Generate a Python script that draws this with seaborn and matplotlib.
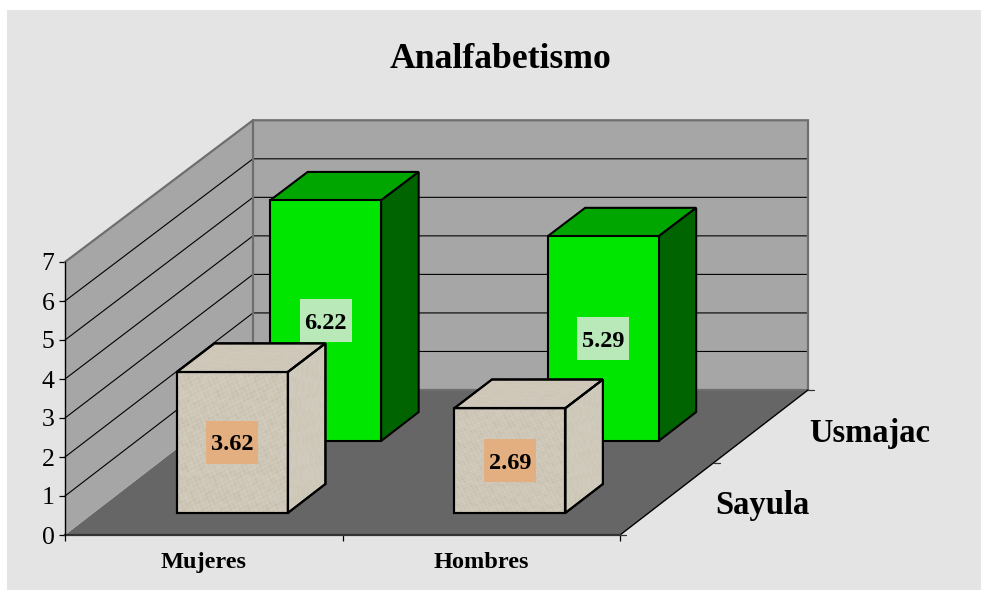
import matplotlib
matplotlib.use("Agg")
import matplotlib.pyplot as plt
from matplotlib.patches import Polygon, Rectangle
import numpy as np
import pandas as pd
import seaborn as sns

categorias = ["Mujeres", "Hombres"]
lugares = ["Sayula", "Usmajac"]
sayula = [3.62, 2.69]
usmajac = [6.22, 5.29]
titulo = "Analfabetismo"

sns.set_theme(style="white")
plt.rcParams["font.family"] = ["Liberation Serif", "DejaVu Serif"]

W, H = 981, 590
fig = plt.figure(figsize=(W / 100, H / 100), dpi=100, facecolor="white")
fig.patches.append(Rectangle((7 / W, 0), 1 - 7 / W, 1 - 10 / H, transform=fig.transFigure,
                             facecolor="#e4e4e4", edgecolor="none", zorder=-10))
ax = fig.add_axes([65 / W, (H - 535) / H, 555 / W, 273 / H], facecolor="none")

df = pd.DataFrame({
    "categoria": categorias * 2,
    "lugar": [lugares[0]] * 2 + [lugares[1]] * 2,
    "valor": sayula + usmajac,
})
FRONT = {"Sayula": "#cfc8b8", "Usmajac": "#00e600"}
TOP = {"Sayula": "#d0c9ba", "Usmajac": "#00a600"}
SIDE = {"Sayula": "#d0cabb", "Usmajac": "#006400"}
LABEL = {"Sayula": "#e3ae80", "Usmajac": "#b9e8b9"}
DEPTH = {"Sayula": (0.152, 0.352), "Usmajac": (0.648, 0.848)}
ZO = {"Sayula": 6, "Usmajac": 4}

sns.barplot(data=df, x="categoria", y="valor", hue="lugar", hue_order=lugares, order=categorias,
            palette=FRONT, dodge=False, width=0.4, legend=False, ax=ax, saturation=1)
ax.set_xlim(-0.5, 1.5)
ax.set_ylim(0, 7)
ax.set_xlabel("")
ax.set_ylabel("")

# oblique projection of the depth axis (data units per full depth), slight shrink with depth
DX = 188 / 277.5
DY = 145 / 39.0
SHRINK = 0.012


def proj(x, v, d):
    return (x + d * DX, v * (1 - SHRINK * d) + d * DY)


def poly(points, **kw):
    p = Polygon([proj(*q) for q in points], closed=True, clip_on=False, **kw)
    ax.add_patch(p)
    return p


# faint stone grain drawn over the Sayula faces (a fill pattern, carries no values)
gy, gx = np.mgrid[0:160, 0:160]
grain = (np.sin(gx * 0.71 + gy * 0.37) * np.sin(gx * 0.23 - gy * 0.83)
         + 0.7 * np.sin(gx * 0.13 + np.sin(gy * 0.19) * 3.1) * np.sin(gy * 0.11 + np.sin(gx * 0.17) * 2.3))
grain_rgba = np.zeros(grain.shape + (4,))
grain_rgba[..., :3] = (grain[..., None] < 0) * np.array([0.62, 0.59, 0.52]) + (grain[..., None] >= 0) * 0.9
grain_rgba[..., 3] = np.clip(np.abs(grain) * 0.14, 0, 0.3)


def stone(patch, zorder):
    x0, y0 = patch.get_xy().min(axis=0) if isinstance(patch, Polygon) else patch.get_xy()
    x1, y1 = patch.get_xy().max(axis=0)
    im = ax.imshow(grain_rgba, extent=(x0, x1, y0, y1), aspect="auto", zorder=zorder,
                   interpolation="bilinear", clip_on=True)
    im.set_clip_path(patch)


X0, X1, VT = -0.5, 1.5, 7
WALL, FLOOR, EDGE = "#a6a6a6", "#666666", "#6e6e6e"
poly([(X0, 0, 0), (X1, 0, 0), (X1, 0, 1), (X0, 0, 1)], facecolor=FLOOR, edgecolor="none", zorder=1)
poly([(X0, 0, 0), (X0, 0, 1), (X0, VT, 1), (X0, VT, 0)], facecolor=WALL, edgecolor="none", zorder=1)
poly([(X0, 0, 1), (X1, 0, 1), (X1, VT, 1), (X0, VT, 1)], facecolor=WALL, edgecolor="none", zorder=1)

for v in range(1, 7):
    xs, ys = zip(proj(X0, v, 0), proj(X0, v, 1), proj(X1, v, 1))
    ax.plot(xs, ys, color="#000000", lw=0.8, clip_on=False, zorder=2)
xs, ys = zip(proj(X0, VT, 0), proj(X0, VT, 1), proj(X1, VT, 1), proj(X1, 0, 1))
ax.plot(xs, ys, color=EDGE, lw=1.6, clip_on=False, zorder=2, solid_joinstyle="miter")
xs, ys = zip(proj(X0, VT, 1), proj(X0, 0, 1), proj(X1, 0, 1))
ax.plot(xs, ys, color=EDGE, lw=1.6, clip_on=False, zorder=2)
xs, ys = zip(proj(X1, 0, 0), proj(X1, 0, 1))
ax.plot(xs, ys, color="black", lw=1.0, clip_on=False, zorder=3)
for d in (0, 0.5, 1):
    xs, ys = zip(proj(X1, 0, d), proj(X1 + 0.02, 0, d))
    ax.plot(xs, ys, color="#333333", lw=0.9, clip_on=False, zorder=3)

# seaborn's bars become the front faces; they are moved back along the depth axis
LW = 1.5
for cont, lugar in zip(ax.containers, lugares):
    d0, d1 = DEPTH[lugar]
    z = ZO[lugar]
    for bar in cont:
        x, w, h = bar.get_x(), bar.get_width(), bar.get_height()
        fx, fy = proj(x, 0, d0)
        bh = h * (1 - SHRINK * d0)
        bar.set_xy((fx, fy))
        bar.set_height(bh)
        bar.set(edgecolor="black", linewidth=LW, zorder=z + 0.5, clip_on=False)
        style = dict(linewidth=LW, zorder=z, joinstyle="miter")
        top_pts = [(x, h, d0), (x + w, h, d0), (x + w, h, d1), (x, h, d1)]
        side_pts = [(x + w, 0, d0), (x + w, 0, d1), (x + w, h, d1), (x + w, h, d0)]
        front_pts = [(x, 0, d0), (x + w, 0, d0), (x + w, h, d0), (x, h, d0)]
        poly(top_pts, facecolor=TOP[lugar], edgecolor="black", **style)
        poly(side_pts, facecolor=SIDE[lugar], edgecolor="black", **style)
        if lugar == "Sayula":
            for pts in (top_pts, side_pts, front_pts):
                face = poly(pts, facecolor="none", edgecolor="none", zorder=z + 0.6)
                stone(face, z + 0.7)
            for pts in (top_pts, side_pts, front_pts):
                poly(pts, facecolor="none", edgecolor="black", linewidth=LW, zorder=z + 0.8, joinstyle="miter")
        cx, cy = fx + w / 2, fy + bh / 2
        lw_, lh_ = 52 / 277.5, 43 / 39.0
        ax.add_patch(Rectangle((cx - lw_ / 2, cy - lh_ / 2), lw_, lh_, facecolor=LABEL[lugar],
                               edgecolor="none", zorder=z + 2, clip_on=False))
        ax.text(cx, cy, f"{h:.2f}", ha="center", va="center_baseline", fontsize=17.5,
                fontweight="bold", color="black", zorder=z + 3)

ax.set_xlim(-0.5, 1.5)
ax.set_ylim(0, 7)
for s in ("top", "right"):
    ax.spines[s].set_visible(False)
ax.spines["left"].set(color="black", linewidth=1.0, zorder=8)
ax.spines["bottom"].set(color="#333333", linewidth=1.6, zorder=3)
ax.set_yticks(range(0, 8))
ax.tick_params(axis="y", left=True, length=4.5, width=0.9, color="black", pad=3,
               labelsize=18.5, labelcolor="black")
ax.set_xticks([0, 1], categorias)
ax.set_xticks([-0.5, 0.5, 1.5], minor=True)
ax.tick_params(axis="x", which="major", bottom=False, length=0, pad=12, labelsize=17.5, labelcolor="black")
ax.tick_params(axis="x", which="minor", bottom=True, length=4.5, width=0.9, color="black")
for t in ax.get_xticklabels():
    t.set_fontweight("bold")
for t in ax.get_yticklabels():
    t.set_verticalalignment("center_baseline")

for lugar, d in zip(lugares, (0.25, 0.75)):
    ax.annotate(lugar, proj(X1, 0, d), xytext=(35, -5), textcoords="offset points", ha="left", va="center",
                fontsize=23.5, fontweight="bold", color="black", annotation_clip=False)

ax.text((501 - 65) / 555, (535 - 59) / 273, titulo, transform=ax.transAxes, ha="center", va="center",
        fontsize=25.7, fontweight="bold", color="black")

fig.savefig("out.png", dpi=100, facecolor=fig.get_facecolor())
